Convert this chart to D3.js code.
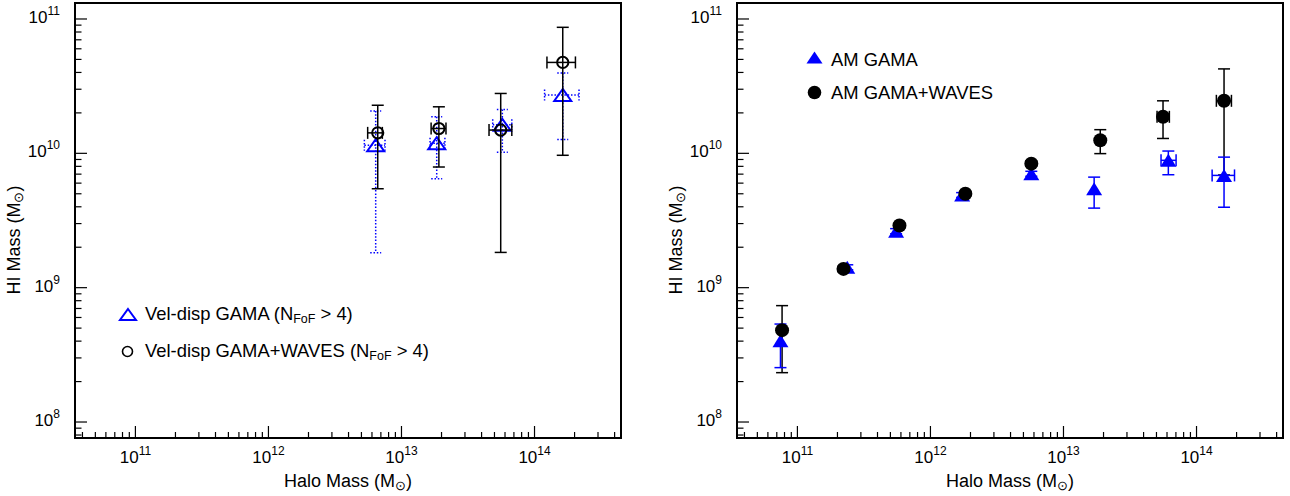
<!DOCTYPE html>
<html>
<head>
<meta charset="utf-8">
<script src="https://cdn.jsdelivr.net/npm/d3@7"></script>
<style>
  body { margin: 0; background: #fff; }
  text { font-family: "Liberation Sans", Arial, Helvetica, sans-serif; fill: #000; }
</style>
</head>
<body>
<svg id="chart" width="1290" height="496"></svg>
<script>
// ---- Left panel: velocity-dispersion halo masses ----
const vdHalo_G    = [6.40e12, 1.84e13, 5.73e13, 1.63e14];
const vdHaloLo_G  = [5.26e12, 1.64e13, 4.85e13, 1.19e14];
const vdHaloHi_G  = [7.52e12, 2.12e13, 6.75e13, 2.16e14];
const vdHI_G      = [1.15e10, 1.19e10, 1.63e10, 2.72e10];
const vdHILo_G    = [1.82e9, 6.47e9, 1.02e10, 1.27e10];
const vdHIHi_G    = [2.07e10, 1.87e10, 2.12e10, 3.97e10];

const vdHalo_GW   = [6.63e12, 1.91e13, 5.57e13, 1.63e14];
const vdHaloLo_GW = [5.57e12, 1.67e13, 4.55e13, 1.24e14];
const vdHaloHi_GW = [7.18e12, 2.16e13, 6.75e13, 2.03e14];
const vdHI_GW     = [1.42e10, 1.53e10, 1.49e10, 4.75e10];
const vdHILo_GW   = [5.45e9, 7.91e9, 1.83e9, 9.67e9];
const vdHIHi_GW   = [2.28e10, 2.22e10, 2.79e10, 8.67e10];

// ---- Right panel: abundance-matched halo masses ----
const amHalo_G    = [7.46e10, 2.37e11, 5.52e11, 1.73e12, 5.73e12, 1.70e13, 6.14e13, 1.61e14];
const amHaloLo_G  = [null, null, null, null, null, null, 5.41e13, 1.31e14];
const amHaloHi_G  = [null, null, null, null, null, null, 7.02e13, 1.93e14];
const amHI_G      = [4.02e8, 1.42e9, 2.63e9, 4.90e9, 7.05e9, 5.45e9, 8.87e9, 6.85e9];
const amHILo_G    = [2.54e8, 1.36e9, 2.52e9, 4.70e9, 6.75e9, 3.91e9, 6.93e9, 3.97e9];
const amHIHi_G    = [5.36e8, 1.48e9, 2.75e9, 5.10e9, 7.35e9, 6.65e9, 1.04e10, 9.37e9];

const amHalo_GW   = [7.67e10, 2.22e11, 5.85e11, 1.83e12, 5.73e12, 1.89e13, 5.60e13, 1.61e14];
const amHaloLo_GW = [null, null, null, null, null, null, 5.05e13, 1.41e14];
const amHaloHi_GW = [null, null, null, null, null, null, 6.25e13, 1.83e14];
const amHI_GW     = [4.83e8, 1.38e9, 2.90e9, 5.00e9, 8.38e9, 1.25e10, 1.87e10, 2.46e10];
const amHILo_GW   = [2.33e8, 1.32e9, 2.78e9, 4.80e9, 8.00e9, 9.95e9, 1.29e10, 6.90e9];
const amHIHi_GW   = [7.35e8, 1.44e9, 3.02e9, 5.20e9, 8.80e9, 1.50e10, 2.46e10, 4.25e10];

// ---- Axis labels ----
const xTickExps = [11, 12, 13, 14];
const yTickExps = [8, 9, 10, 11];
const xTitle = "Halo Mass (M";
const yTitle = "HI Mass (M";
const sunSymbol = "\u2299";
const legendLeft = [
  { main: "Vel-disp GAMA (N", sub: "FoF", tail: " > 4)" },
  { main: "Vel-disp GAMA+WAVES (N", sub: "FoF", tail: " > 4)" }
];
const legendRight = ["AM GAMA", "AM GAMA+WAVES"];

const BLUE = "#0000ff";
const svg = d3.select("#chart");

const panelW = 546, panelH = 435, panelTop = 3;
const xDomain = [Math.pow(10, 10.546), Math.pow(10, 14.65)];
const yDomain = [Math.pow(10, 7.881), Math.pow(10, 11.119)];

function makePanel(x0) {
  const g = svg.append("g").attr("transform", `translate(${x0},${panelTop})`);
  const x = d3.scaleLog().domain(xDomain).range([0, panelW]);
  const y = d3.scaleLog().domain(yDomain).range([panelH, 0]);
  const marks = g.append("g");
  const axes = g.append("g");
  const isMajor = v => Math.abs(Math.log10(v) - Math.round(Math.log10(v))) < 1e-6;

  // inward ticks on bottom axis
  axes.selectAll("line.xt").data(x.ticks()).join("line")
    .attr("x1", d => x(d)).attr("x2", d => x(d))
    .attr("y1", panelH).attr("y2", d => panelH - (isMajor(d) ? 12 : 6))
    .attr("stroke", "#000").attr("stroke-width", 1.2);
  // inward ticks on left axis
  axes.selectAll("line.yt").data(y.ticks()).join("line")
    .attr("y1", d => y(d)).attr("y2", d => y(d))
    .attr("x1", 0).attr("x2", d => (isMajor(d) ? 12 : 6.5))
    .attr("stroke", "#000").attr("stroke-width", 1.2);

  // tick labels as powers of ten
  xTickExps.forEach(e => {
    const t = axes.append("text").attr("x", x(Math.pow(10, e))).attr("y", panelH + 25)
      .attr("text-anchor", "middle").attr("font-size", 17);
    t.append("tspan").text("10");
    t.append("tspan").attr("font-size", 12).attr("dy", -8).text(e);
  });
  yTickExps.forEach(e => {
    const t = axes.append("text").attr("x", -15).attr("y", y(Math.pow(10, e)) + 4)
      .attr("text-anchor", "end").attr("font-size", 17);
    t.append("tspan").text("10");
    t.append("tspan").attr("font-size", 12).attr("dy", -8).text(e);
  });

  // axis titles
  const xt = axes.append("text").attr("x", panelW / 2).attr("y", panelH + 49)
    .attr("text-anchor", "middle").attr("font-size", 18);
  xt.append("tspan").text(xTitle);
  xt.append("tspan").attr("font-size", 13).attr("dy", 3).text(sunSymbol);
  xt.append("tspan").attr("dy", -3).text(")");

  const yt = axes.append("text")
    .attr("transform", `translate(-55,${237}) rotate(-90)`)
    .attr("text-anchor", "middle").attr("font-size", 18);
  yt.append("tspan").text(yTitle);
  yt.append("tspan").attr("font-size", 13).attr("dy", 3).text(sunSymbol);
  yt.append("tspan").attr("dy", -3).text(")");

  // frame
  axes.append("rect").attr("x", 0).attr("y", 0).attr("width", panelW).attr("height", panelH)
    .attr("fill", "none").attr("stroke", "#000").attr("stroke-width", 2);

  return { g: marks, x, y };
}

function errorBars(p, xs, xlo, xhi, ys, ylo, yhi, color, dash, cap) {
  const layer = p.g.append("g").attr("stroke", color).attr("stroke-width", 1.5)
    .attr("fill", "none");
  if (dash) layer.attr("stroke-dasharray", dash);
  xs.forEach((xv, i) => {
    const cx = p.x(xv), cy = p.y(ys[i]);
    const yt = p.y(yhi[i]), yb = p.y(ylo[i]);
    layer.append("line").attr("x1", cx).attr("x2", cx).attr("y1", yt).attr("y2", yb);
    layer.append("line").attr("x1", cx - cap / 2).attr("x2", cx + cap / 2).attr("y1", yt).attr("y2", yt);
    layer.append("line").attr("x1", cx - cap / 2).attr("x2", cx + cap / 2).attr("y1", yb).attr("y2", yb);
    if (xlo[i] != null && xhi[i] != null) {
      const xl = p.x(xlo[i]), xr = p.x(xhi[i]);
      layer.append("line").attr("x1", xl).attr("x2", xr).attr("y1", cy).attr("y2", cy);
      layer.append("line").attr("x1", xl).attr("x2", xl).attr("y1", cy - cap / 2).attr("y2", cy + cap / 2);
      layer.append("line").attr("x1", xr).attr("x2", xr).attr("y1", cy - cap / 2).attr("y2", cy + cap / 2);
    }
  });
}

function trianglePath(w, h) {
  return `M0,${-h / 2}L${w / 2},${h / 2}L${-w / 2},${h / 2}Z`;
}

// ---------------- Left panel ----------------
const L = makePanel(75);
errorBars(L, vdHalo_G, vdHaloLo_G, vdHaloHi_G, vdHI_G, vdHILo_G, vdHIHi_G, BLUE, "1.5,1.8", 11);
L.g.append("g").selectAll("path").data(vdHalo_G).join("path")
  .attr("d", trianglePath(17, 12))
  .attr("transform", (d, i) => `translate(${L.x(d)},${L.y(vdHI_G[i])})`)
  .attr("fill", "none").attr("stroke", BLUE).attr("stroke-width", 2);
errorBars(L, vdHalo_GW, vdHaloLo_GW, vdHaloHi_GW, vdHI_GW, vdHILo_GW, vdHIHi_GW, "#000", null, 12);
L.g.append("g").selectAll("circle").data(vdHalo_GW).join("circle")
  .attr("cx", d => L.x(d)).attr("cy", (d, i) => L.y(vdHI_GW[i])).attr("r", 5.6)
  .attr("fill", "none").attr("stroke", "#000").attr("stroke-width", 2);

// left legend
const legL = svg.append("g");
legL.append("path").attr("d", trianglePath(16, 11))
  .attr("transform", "translate(128,314.5)")
  .attr("fill", "none").attr("stroke", BLUE).attr("stroke-width", 2);
legL.append("circle").attr("cx", 127.5).attr("cy", 351.5).attr("r", 5)
  .attr("fill", "none").attr("stroke", "#000").attr("stroke-width", 1.6);
legendLeft.forEach((d, i) => {
  const t = legL.append("text").attr("x", 145).attr("y", 320 + i * 37).attr("font-size", 18.4);
  t.append("tspan").text(d.main);
  t.append("tspan").attr("font-size", 12.5).attr("dy", 3).text(d.sub);
  t.append("tspan").attr("dy", -3).text(d.tail);
});

// ---------------- Right panel ----------------
const R = makePanel(737);
errorBars(R, amHalo_GW, amHaloLo_GW, amHaloHi_GW, amHI_GW, amHILo_GW, amHIHi_GW, "#000", null, 12);
errorBars(R, amHalo_G, amHaloLo_G, amHaloHi_G, amHI_G, amHILo_G, amHIHi_G, BLUE, null, 12);
R.g.append("g").selectAll("path").data(amHalo_G).join("path")
  .attr("d", trianglePath(16, 13))
  .attr("transform", (d, i) => `translate(${R.x(d)},${R.y(amHI_G[i])})`)
  .attr("fill", BLUE);
R.g.append("g").selectAll("circle").data(amHalo_GW).join("circle")
  .attr("cx", d => R.x(d)).attr("cy", (d, i) => R.y(amHI_GW[i])).attr("r", 7)
  .attr("fill", "#000");

// right legend
const legR = svg.append("g");
legR.append("path").attr("d", trianglePath(16, 12))
  .attr("transform", "translate(814.5,57.5)").attr("fill", BLUE);
legR.append("circle").attr("cx", 814.5).attr("cy", 92.5).attr("r", 6.8).attr("fill", "#000");
legendRight.forEach((d, i) => {
  legR.append("text").attr("x", 831).attr("y", 66 + i * 32.5).attr("font-size", 18.4).text(d);
});
</script>
</body>
</html>
